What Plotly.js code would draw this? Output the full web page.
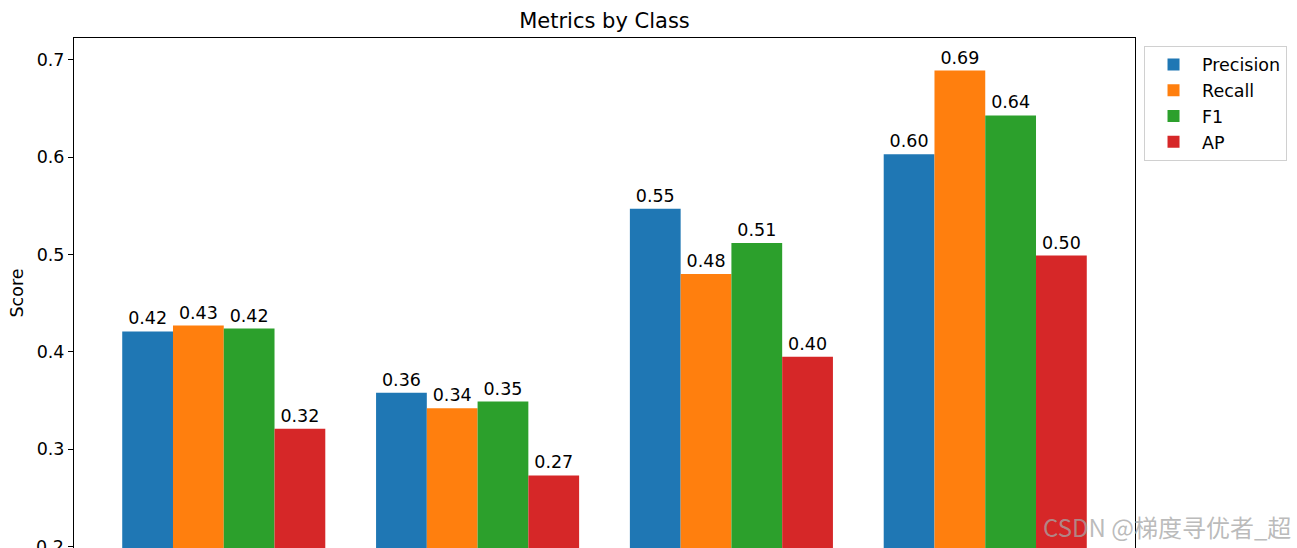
<!DOCTYPE html>
<html>
<head>
<meta charset="utf-8">
<script src="https://cdn.plot.ly/plotly-3.0.1.min.js"></script>
<style>html,body{margin:0;padding:0;background:#fff;}#chart{width:1297px;height:548px;}</style>
</head>
<body>
<div id="chart"></div>
<script>
const classes = ["Class 0", "Class 1", "Class 2", "Class 3"];
const precision = [0.421, 0.358, 0.547, 0.603];
const recall = [0.427, 0.342, 0.480, 0.689];
const f1 = [0.424, 0.349, 0.512, 0.643];
const ap = [0.321, 0.273, 0.395, 0.499];
const seriesNames = ["Precision", "Recall", "F1", "AP"];
const seriesColors = ["#1f77b4", "#ff7f0e", "#2ca02c", "#d62728"];
const seriesValues = [precision, recall, f1, ap];
const yTicks = [0.2, 0.3, 0.4, 0.5, 0.6, 0.7];
const yTickText = ["", "0.3", "0.4", "0.5", "0.6", "0.7"];

const font = "DejaVu Sans, sans-serif";
const traces = seriesValues.map((vals, i) => ({
  type: "bar",
  name: seriesNames[i],
  x: classes.map((_, k) => k),
  y: vals,
  marker: {color: seriesColors[i], line: {width: 0}},
  text: vals.map(v => v.toFixed(2)),
  textposition: "outside",
  textfont: {family: font, size: 17.5, color: "#000"},
  cliponaxis: false,
  hoverinfo: "none"
}));

const layout = {
  width: 1297, height: 548,
  paper_bgcolor: "#fff", plot_bgcolor: "#fff",
  margin: {l: 74, r: 162, t: 38, b: 0},
  barmode: "group", bargap: 0.2, bargroupgap: 0,
  title: {text: "Metrics by Class", font: {family: font, size: 21, color: "#000"}, x: 0.5, xref: "paper", y: 0.963, yanchor: "middle"},
  showlegend: true,
  legend: {x: 1.0085, y: 0.985, xanchor: "left", yanchor: "top", bgcolor: "#fff", bordercolor: "#d0d0d0", borderwidth: 1,
           font: {family: font, size: 17.5, color: "#000"}, tracegroupgap: 0, itemwidth: 47},
  xaxis: {range: [-0.59, 3.59], tickvals: [0,1,2,3], ticktext: classes, showticklabels: false, showgrid: false, zeroline: false,
          showline: true, mirror: true, linecolor: "#000", linewidth: 1, ticks: ""},
  yaxis: {range: [0.1985, 0.7225], tickvals: yTicks, ticktext: yTickText, showgrid: false, zeroline: false,
          showline: true, mirror: true, linecolor: "#000", linewidth: 1, ticks: "outside", ticklen: 5, tickcolor: "#000",
          tickfont: {family: font, size: 17.5, color: "#000"},
          title: {text: "Score", font: {family: font, size: 17.5, color: "#000"}, standoff: 8}},
  annotations: [
    {xref: "paper", yref: "y", x: 0, y: yTicks[0], xshift: -8, xanchor: "right", yanchor: "middle", showarrow: false,
     text: "0.2", font: {family: font, size: 17.5, color: "#000"}},
    {xref: "paper", yref: "paper", x: 1.149, y: 0.043, xanchor: "right", yanchor: "middle", showarrow: false,
     text: "CSDN @梯度寻优者_超", font: {family: "Noto Sans CJK SC, sans-serif", size: 24, color: "rgba(165,165,165,0.75)"}}
  ]
};
Plotly.newPlot("chart", traces, layout, {displayModeBar: false, staticPlot: true});
</script>
</body>
</html>
